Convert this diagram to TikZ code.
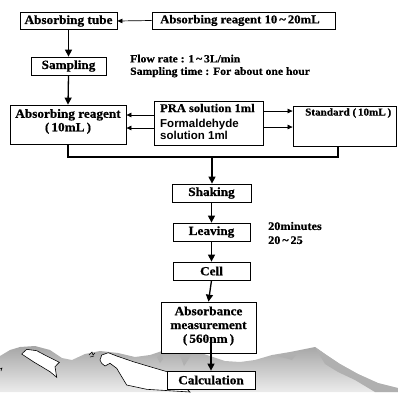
\documentclass[tikz,border=0pt]{standalone}
\usepackage{fontspec}
\setmainfont{Liberation Serif}[FakeStretch=1.06, BoldFeatures={FakeBold=0.6}]
\newfontfamily\sansbf{Liberation Sans}
\usetikzlibrary{arrows.meta}

\begin{document}
\begin{tikzpicture}[x=1pt,y=-1pt,
  box/.style={draw, line width=0.8pt, fill=white, inner sep=0pt},
  lbl/.style={inner sep=0pt, font=\bfseries\fontsize{12.5}{13}\selectfont},
  note/.style={inner sep=0pt, anchor=west, align=left, font=\bfseries\fontsize{11}{12.5}\selectfont},
  flow/.style={-{Triangle[length=7pt,width=7pt]}, line width=1.3pt},
  feed/.style={-{Triangle[length=5pt,width=4.5pt]}, line width=0.7pt},
  busline/.style={line width=1.3pt},
  snowpatch/.style={draw=black, line width=0.6pt, fill=white},
  darkpatch/.style={fill=gray!62}]
\useasboundingbox (0,0) rectangle (398,392);

% ---- hills along the bottom ----
\shade[top color=gray!70, bottom color=gray!15, shading angle=0]
  (0,392) -- (0,356) -- (10,350) -- (20,347) -- (35,346) -- (50,350) -- (62,358)
  -- (72,360) -- (85,354) -- (100,351) -- (118,353) -- (135,357) -- (150,355)
  -- (165,350) -- (180,348) -- (195,351) -- (210,356) -- (225,361) -- (240,362)
  -- (255,360) -- (272,355) -- (290,352) -- (305,349) -- (315,347) -- (325,354)
  -- (340,364) -- (358,374) -- (378,383) -- (398,388) -- (398,392) -- cycle;
\fill[darkpatch] (157,357) -- (161,354) -- (163,359) -- (160,363) -- cycle;
\fill[darkpatch] (178,352) -- (186,350) -- (192,352) -- (188,360) -- (184,366) -- (181,358) -- cycle;
\fill[darkpatch] (277,356) -- (286,353) -- (296,355) -- (292,360) -- (285,358) -- cycle;
\fill[darkpatch] (315,347) -- (325,354) -- (340,364) -- (358,374) -- (378,383) -- (398,388)
  -- (398,392) -- (375,392) -- (355,380) -- (338,372) -- (325,364) -- cycle;
% snow patches
\draw[snowpatch] (21.7,354) -- (26.7,349.3) -- (36.7,350.7) -- (46.7,356) -- (59.3,362.3)
  -- (55,366.7) -- (56.7,377.3) -- (50,371.7) -- (41.7,366.7) -- (33.3,361.7) -- cycle;
\draw[snowpatch] (100,360) -- (101.7,355) -- (108.3,352.7) -- (116.7,356) -- (133.3,361.7)
  -- (150,366.7) -- (168,372) -- (190,392) -- (146.7,389.3) -- (126.7,385)
  -- (121.7,376.7) -- (116.7,368.3) -- (110,363.3) -- (105,366) -- (101.7,363.3) -- cycle;
\draw[line width=0.5pt] (89,355) -- (92,352) -- (93,355) -- (95,353) (90,357) -- (94,356);
\draw[line width=0.5pt] (0,369) -- (2,368) -- (1,371);

% ---- boxes ----
\node[box, minimum width=97, minimum height=17] (tube) at (68.5,21) {};
\node[lbl] (tubet) at (68.5,21) {Absorbing tube};
\node[box, minimum width=183, minimum height=17] (reag) at (243.5,20.5) {};
\node[lbl, anchor=west, font=\bfseries\fontsize{12}{13}\selectfont] (reagt) at (160,20.5) {Absorbing reagent 10\,\textasciitilde\,20mL};
\node[box, minimum width=75, minimum height=18] (samp) at (68.5,66) {};
\node[lbl] (sampt) at (68.5,66) {Sampling};

\node[box, minimum width=116, minimum height=39] (abs) at (68,124.5) {};
\node[lbl, align=center, font=\bfseries\fontsize{12.5}{13.5}\selectfont] (abst) at (68,121.5) {Absorbing reagent\\(\,10mL\,)};
\node[box, minimum width=109, minimum height=44] (pra) at (208.5,123) {};
\node[lbl, anchor=west, font=\bfseries\fontsize{11.8}{13}\selectfont] (prat) at (160,108) {PRA solution 1ml};
\node[inner sep=0pt, anchor=west, align=left, font=\sansbf\bfseries\fontsize{11.5}{9.5}\selectfont]
  (formt) at (160,129.5) {Formaldehyde\\solution 1ml};
\node[box, minimum width=103, minimum height=40] (std) at (344.5,126) {};
\node[lbl, anchor=west, font=\bfseries\fontsize{10.5}{11}\selectfont] (stdt) at (305,113) {Standard (\,10mL\,)};

\node[box, minimum width=79, minimum height=18] (shake) at (211.5,193) {};
\node[lbl] (shaket) at (211.5,193) {Shaking};
\node[box, minimum width=77, minimum height=18] (leave) at (211.5,232) {};
\node[lbl] (leavet) at (211.5,232) {Leaving};
\node[box, minimum width=77, minimum height=18] (cell) at (211.5,271) {};
\node[lbl] (cellt) at (211.5,271) {Cell};
\node[box, minimum width=95, minimum height=51] (meas) at (208.5,327.5) {};
\node[lbl, align=center, font=\bfseries\fontsize{12.5}{13.8}\selectfont] (meast) at (208.5,326) {Absorbance\\measurement\\(\,560nm\,)};
\node[box, minimum width=88, minimum height=18] (calc) at (211,380) {};
\node[lbl] (calct) at (211,380) {Calculation};

% ---- notes ----
\node[note] (flownote) at (130,66) {Flow rate : 1\,\textasciitilde\,3L/min\\Sampling time : For about one hour};
\node[note, font=\bfseries\fontsize{11.5}{14}\selectfont] (timenote) at (268,233) {20minutes\\20\,\textasciitilde\,25};

% ---- connectors ----
\coordinate (m0) at (212,157);
\draw[feed] (reag.west) -- (tube.east);
\draw[flow] (tube.south) -- (samp.north);
\draw[flow] (samp.south) -- (abs.north);
\draw[feed] (pra.west |- 0,115) -- (abs.east |- 0,115);
\draw[feed] (pra.west |- 0,128) -- (abs.east |- 0,128);
\draw[feed] (pra.east |- 0,111) -- (std.west |- 0,111);
\draw[feed] (pra.east |- 0,127) -- (std.west |- 0,127);
\draw[busline] (abs.south) -- (abs.south |- m0) -- (338,157) -- (338,146);
\draw[flow] (m0) -- (m0 |- shake.north);
\draw[flow] (shake.south) -- (leave.north);
\draw[flow] (leave.south) -- (cell.north);
\draw[flow] (cell.south) -- (meas.north);
\draw[flow] ([yshift=11pt]meas.south -| calc.north) -- (calc.north);
\end{tikzpicture}
\end{document}
